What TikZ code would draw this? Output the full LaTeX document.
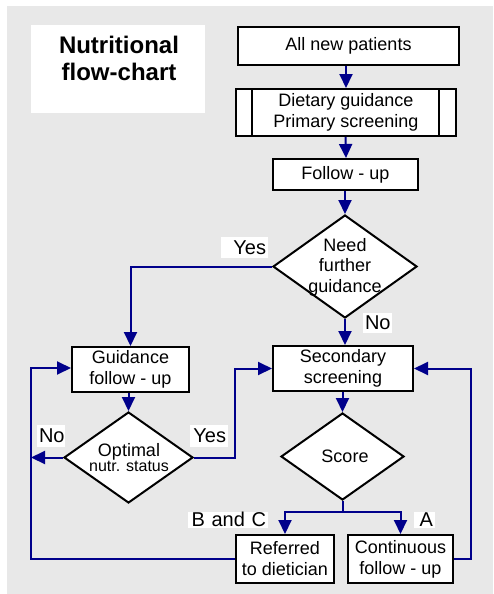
\documentclass[tikz,border=0pt]{standalone}
\usepackage{fontspec}
\setmainfont{Liberation Sans}
\usetikzlibrary{shapes.geometric,arrows.meta,calc}
\definecolor{navyline}{RGB}{0,0,139}
\definecolor{bggray}{RGB}{232,232,232}
\begin{document}
\begin{tikzpicture}[x=1pt,y=-1pt,
  box/.style={draw=black,line width=2pt,fill=white,inner sep=0pt,align=center,font=\fontsize{18}{21}\selectfont},
  dia/.style={diamond,draw=black,line width=2pt,fill=white,inner sep=0pt},
  dtext/.style={align=center,inner sep=0pt,font=\fontsize{18}{20.5}\selectfont},
  lab/.style={fill=white,inner xsep=2pt,inner ysep=0pt,align=right,font=\fontsize{20}{22}\selectfont},
  arr/.style={draw=navyline,line width=2pt,-{Triangle[length=14pt,width=13pt]}},
  ln/.style={draw=navyline,line width=2pt}]
\useasboundingbox (0,0) rectangle (493,594);
\fill[white] (0,0) rectangle (493,594);
\fill[bggray] (7,6) rectangle (493,594);

% title
\node[fill=white,minimum width=174pt,minimum height=88pt,inner sep=0pt] (titlebox) at (118,69) {};
\node[font=\bfseries\fontsize{24}{27}\selectfont,align=center,inner sep=0pt] (title) at (119,58) {Nutritional\\flow-chart};

% boxes
\node[box,minimum width=221pt,minimum height=38pt] (all) at (348.5,46) {All new patients};
\node[box,minimum width=220pt,minimum height=47pt] (diet) at (346,112.5) {Dietary guidance\\Primary screening};
\node[box,minimum width=145pt,minimum height=31pt] (fu) at (345.5,174.5) {Follow - up};
\node[dia,minimum width=144pt,minimum height=103pt] (need) at (345,266.5) {};
\node[dtext] (needtext) at (345,267) {Need\\further\\guidance};
\node[box,minimum width=117pt,minimum height=45pt] (gfu) at (130.5,369.5) {Guidance\\follow - up};
\node[box,minimum width=140pt,minimum height=45pt] (ss) at (343,368.5) {Secondary\\screening};
\node[dia,minimum width=129pt,minimum height=91pt] (opt) at (128.5,457.5) {};
\node[inner sep=0pt,align=center] (opttext) at (129,457.5) {{\fontsize{18}{19}\selectfont Optimal}\\{\fontsize{16}{19}\selectfont nutr. status}};
\node[dia,minimum width=123pt,minimum height=87pt] (score) at (342.5,456.5) {};
\node[dtext] (scoretext) at (345,456.5) {Score};
\node[box,minimum width=98pt,minimum height=48pt] (ref) at (285,559) {Referred\\to dietician};
\node[box,minimum width=105pt,minimum height=48pt] (cfu) at (400.5,559) {Continuous\\follow - up};

% inner bars of the predefined-process box
\draw[line width=2pt] ($(diet.north west)+(17,0)$) -- ($(diet.south west)+(17,0)$);
\draw[line width=2pt] ($(diet.north east)+(-18,0)$) -- ($(diet.south east)+(-18,0)$);

% connectors
\coordinate (nol) at (31,457.5);
\draw[arr] (all.south -| diet.north) -- (diet.north);
\draw[arr] (diet.south -| fu.north) -- (fu.north -| diet.south);
\draw[arr] (fu.south -| need.north) -- (need.north);
\draw[arr] (need.west) -| (gfu.north);
\draw[arr] (need.south) -- (need.south |- ss.north);
\draw[arr] (gfu.south -| opt.north) -- (opt.north);
\draw[arr] (opt.west) -- (nol);
\draw[arr] (ref.west) -- (ref.west -| nol) -- ($(nol |- gfu.west)+(0,-1.5)$) -- ($(gfu.west)+(0,-1.5)$);
\draw[arr] (opt.east) -- ++(41,0) |- (ss.west);
\draw[arr] (cfu.east) -- ++(17,0) |- (ss.east);
\draw[arr] (ss.south -| score.north) -- (score.north);
\draw[ln] (score.south) -- ++(0,11) coordinate (split);
\draw[arr] (split) -| (ref.north);
\draw[arr] (split) -| (cfu.north);

% labels
\node[lab,text width=43pt,minimum height=21pt] (yes1) at (244.5,247.5) {Yes};
\node[lab,text width=25pt,minimum height=20pt] (no1) at (377.5,323) {No};
\node[lab,text width=24pt,minimum height=22pt] (no2) at (51,436) {No};
\node[lab,text width=34pt,minimum height=22pt] (yes2) at (209,436) {Yes};
\node[lab,text width=76pt,minimum height=16pt] (bc) at (228,519.5) {B and C};
\node[lab,text width=17pt,minimum height=16pt] (alab) at (424.5,519.5) {A};
\end{tikzpicture}
\end{document}
